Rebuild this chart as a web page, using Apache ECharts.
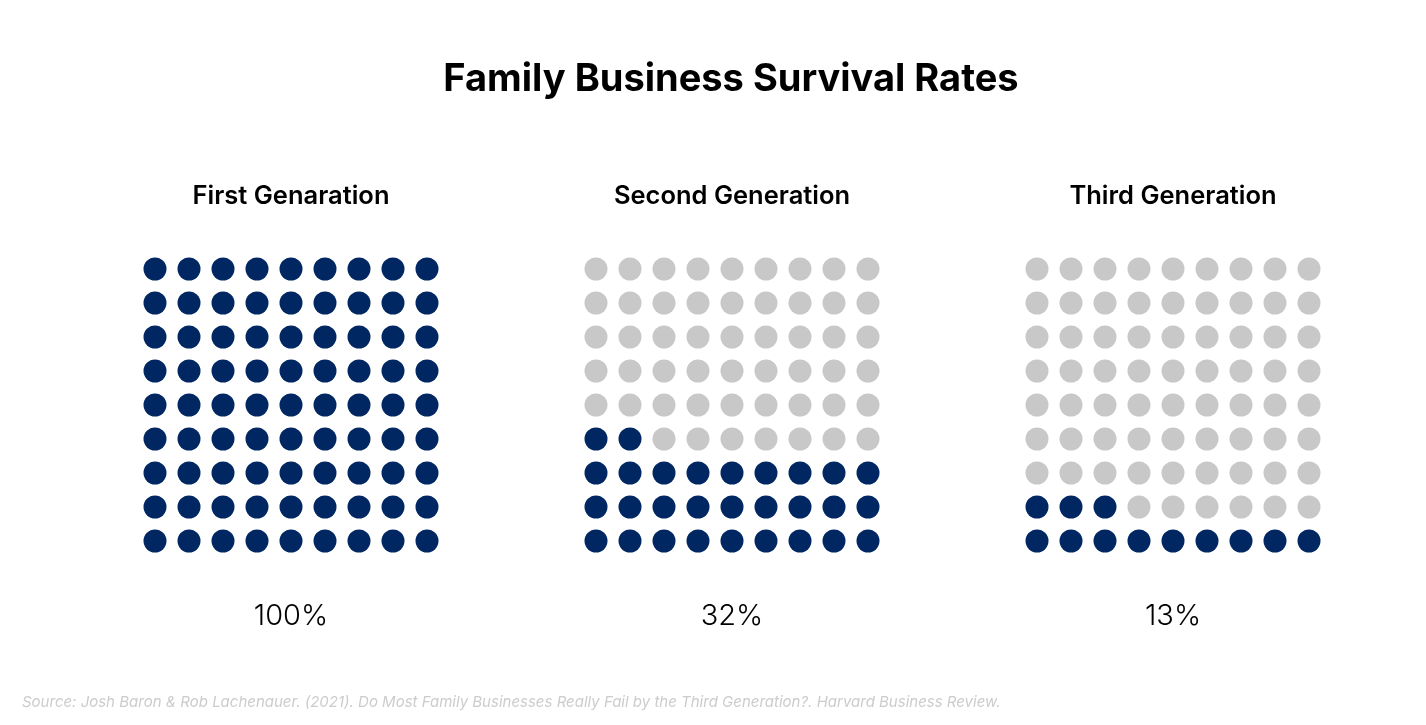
<!DOCTYPE html>
<html><head><meta charset="utf-8">
<script src="https://cdn.jsdelivr.net/npm/echarts@6/dist/echarts.min.js"></script>
<style>html,body{margin:0;padding:0;background:#fff}#c{width:1426px;height:725px}</style>
</head><body><div id="c"></div>
<script>
const generations = ['First Genaration', 'Second Generation', 'Third Generation'];
const filledDots = [81, 29, 12];
const rateLabels = ['100%', '32%', '13%'];
const gridSize = 9;

const chart = echarts.init(document.getElementById('c'));
const centers = [291, 732, 1173];
const cell = 34;
const FONT = 'Inter, "Noto Sans", sans-serif';
const grids = [], xAxes = [], yAxes = [], series = [], titles = [];

titles.push({text: 'Family Business Survival Rates', left: 731, textAlign: 'center', top: 61, padding: 0,
  textStyle: {fontFamily: FONT, fontSize: 38, fontWeight: 'bold', color: '#000'}});
titles.push({text: 'Source: Josh Baron & Rob Lachenauer. (2021). Do Most Family Businesses Really Fail by the Third Generation?. Harvard Business Review.',
  left: 22, top: 695, padding: 0, textStyle: {fontFamily: FONT, fontSize: 15, fontStyle: 'italic', fontWeight: 'normal', color: '#cccccc'}});

generations.forEach((g, k) => {
  const cx = centers[k];
  grids.push({left: cx - cell * gridSize / 2, top: 405 - cell * gridSize / 2, width: cell * gridSize, height: cell * gridSize});
  xAxes.push({gridIndex: k, type: 'value', min: -0.5, max: gridSize - 0.5, show: false});
  yAxes.push({gridIndex: k, type: 'value', min: -0.5, max: gridSize - 0.5, show: false});
  const on = [], off = [];
  for (let i = 0; i < gridSize * gridSize; i++) {
    const p = [i % gridSize, Math.floor(i / gridSize)];
    (i < filledDots[k] ? on : off).push(p);
  }
  series.push({type: 'scatter', xAxisIndex: k, yAxisIndex: k, symbolSize: 23, data: on, itemStyle: {color: '#002762', opacity: 1}, silent: true});
  series.push({type: 'scatter', xAxisIndex: k, yAxisIndex: k, symbolSize: 23, data: off, itemStyle: {color: '#c8c8c8', opacity: 1}, silent: true});
  titles.push({text: g, left: cx, top: 183, padding: 0, textAlign: 'center',
    textStyle: {fontFamily: FONT, fontSize: 25.5, fontWeight: 600, color: '#000'}});
  titles.push({text: rateLabels[k], left: cx, top: 602, padding: 0, textAlign: 'center',
    textStyle: {fontFamily: FONT, fontSize: 29, fontWeight: 300, color: '#000'}});
});

chart.setOption({animation: false, backgroundColor: '#fff', title: titles, grid: grids, xAxis: xAxes, yAxis: yAxes, series});
</script></body></html>
